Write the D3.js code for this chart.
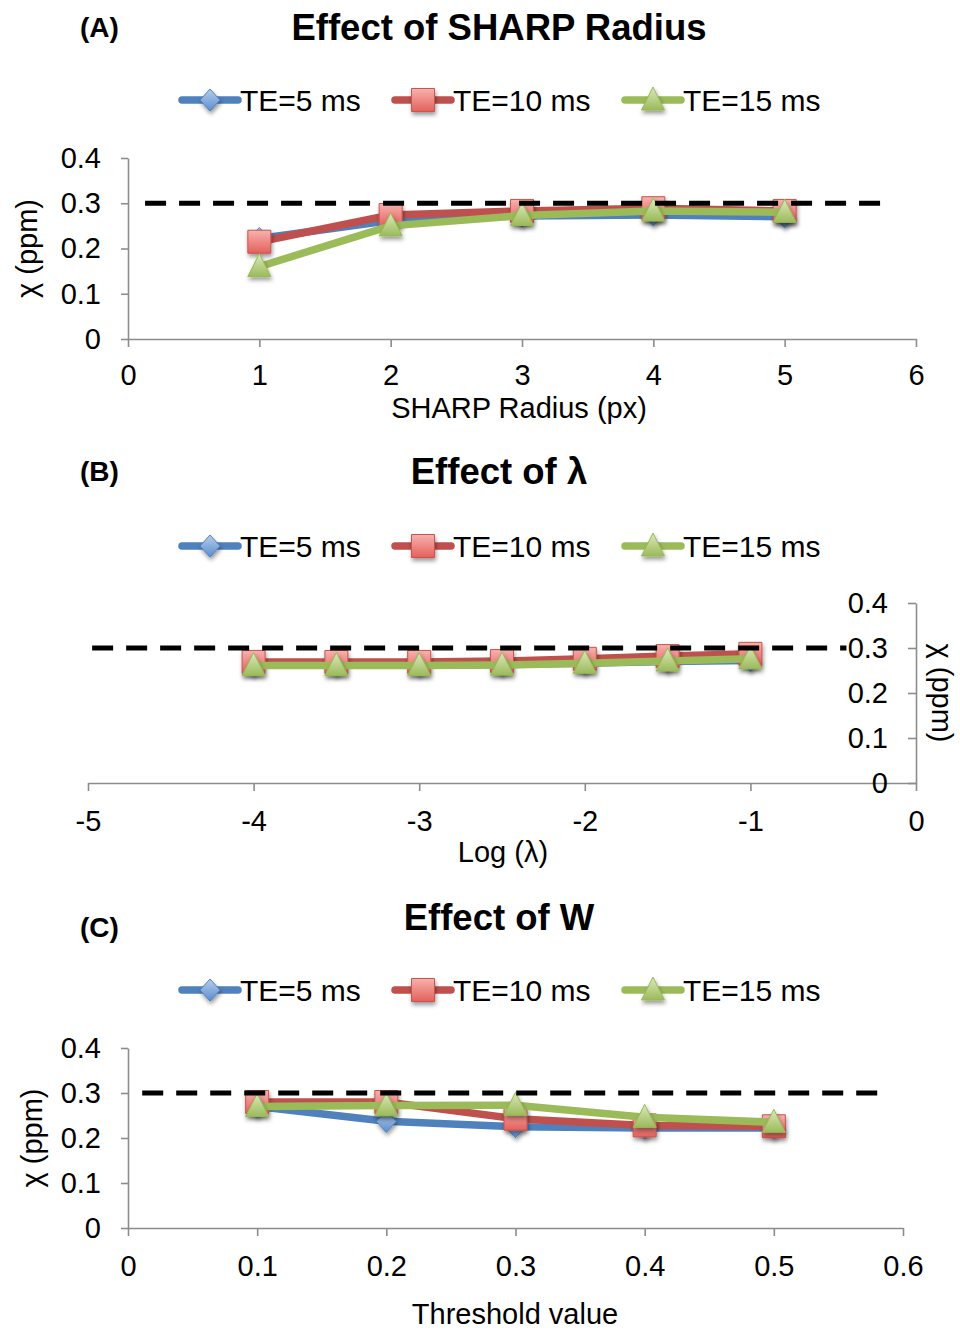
<!DOCTYPE html>
<html>
<head>
<meta charset="utf-8">
<script src="https://cdnjs.cloudflare.com/ajax/libs/d3/7.8.5/d3.min.js"></script>
<style>
  body { margin: 0; background: #fff; }
  svg text { font-family: "Liberation Sans", Arial, sans-serif; fill: #000; }
</style>
</head>
<body>
<svg id="chart"></svg>
<script>
// ---- data ----
var seriesNames = ["TE=5 ms", "TE=10 ms", "TE=15 ms"];
var chiTicks = [0, 0.1, 0.2, 0.3, 0.4];
var trueChi = 0.3;

// (A) SHARP radius
var radiusX = [1, 2, 3, 4, 5];
var radiusTE5 = [0.222, 0.262, 0.272, 0.274, 0.270];
var radiusTE10 = [0.215, 0.274, 0.283, 0.289, 0.283];
var radiusTE15 = [0.160, 0.250, 0.273, 0.283, 0.280];
var radiusTicks = [0, 1, 2, 3, 4, 5, 6];
var radiusRefX = [0.13, 5.82];

// (B) lambda
var lambdaX = [-4, -3.5, -3, -2.5, -2, -1.5, -1];
var lambdaTE5 = [0.262, 0.262, 0.262, 0.263, 0.266, 0.270, 0.272];
var lambdaTE10 = [0.269, 0.269, 0.269, 0.271, 0.276, 0.282, 0.287];
var lambdaTE15 = [0.261, 0.261, 0.261, 0.262, 0.266, 0.271, 0.276];
var lambdaTicks = [-5, -4, -3, -2, -1, 0];
var lambdaRefX = [-4.975, -0.42];

// (C) threshold W
var thrX = [0.1, 0.2, 0.3, 0.4, 0.5];
var thrTE5 = [0.270, 0.237, 0.225, 0.222, 0.222];
var thrTE10 = [0.280, 0.280, 0.243, 0.228, 0.226];
var thrTE15 = [0.270, 0.272, 0.273, 0.246, 0.235];
var thrTicks = [0, 0.1, 0.2, 0.3, 0.4, 0.5, 0.6];
var thrRefX = [0.011, 0.59];

// ---- styles ----
var lineColors = ["#4F81BD", "#C0504D", "#9BBB59"];
var markerTypes = ["diamond", "square", "triangle"];
var legendX = [182, 395, 625];

var svg = d3.select("#chart").attr("width", 960).attr("height", 1331);
svg.append("rect").attr("width", 960).attr("height", 1331).attr("fill", "#fff");

var defs = svg.append("defs");
defs.append("filter").attr("id", "shadow")
    .attr("x", "-50%").attr("y", "-50%").attr("width", "200%").attr("height", "200%")
    .append("feDropShadow")
    .attr("dx", 1).attr("dy", 3).attr("stdDeviation", 2)
    .attr("flood-color", "#000").attr("flood-opacity", 0.4);

// marker gradients (light top -> darker bottom)
var grads = [["#B7CDEA", "#5B8ED0"], ["#F7B2AE", "#E4605B"], ["#DCE9BE", "#9BBB59"]];
grads.forEach(function(g, i){
    var lg = defs.append("linearGradient").attr("id", "mg" + i)
        .attr("x1", 0).attr("y1", 0).attr("x2", 0).attr("y2", 1);
    lg.append("stop").attr("offset", "0%").attr("stop-color", g[0]);
    lg.append("stop").attr("offset", "100%").attr("stop-color", g[1]);
});

function markerPath(type){
    if(type == "diamond"){
        return "M0,-11 L10,0 L0,11 L-10,0 Z";
    }
    if(type == "square"){
        return "M-11.5,-11.5 H11.5 V11.5 H-11.5 Z";
    }
    return "M0,-13 L11.5,10 L-11.5,10 Z";
}

function drawMarker(g, i, x, y){
    g.append("path")
        .attr("d", markerPath(markerTypes[i]))
        .attr("transform", "translate(" + x + "," + y + ")")
        .attr("fill", "url(#mg" + i + ")")
        .attr("stroke", i == 1 ? "#C9524E" : (i == 0 ? "#4F81BD" : "#98B954"))
        .attr("stroke-width", 1)
        .attr("filter", "url(#shadow)");
}

function drawPanel(p){
    var g = svg.append("g");
    var x = d3.scaleLinear().domain(p.xDomain).range(p.xRange);
    var y = d3.scaleLinear().domain([0, 0.4]).range(p.yRange);

    // letter + title
    g.append("text").attr("x", 80).attr("y", p.letterY)
        .attr("dominant-baseline", "central")
        .style("font-size", "28px").style("font-weight", "bold").text(p.letter);
    g.append("text").attr("x", 499).attr("y", p.titleY)
        .attr("text-anchor", "middle").attr("dominant-baseline", "central")
        .style("font-size", "36.5px").style("font-weight", "bold").text(p.title);

    // legend
    seriesNames.forEach(function(name, i){
        var lx = legendX[i];
        g.append("line").attr("x1", lx).attr("x2", lx + 56)
            .attr("y1", p.legendY).attr("y2", p.legendY)
            .attr("stroke", lineColors[i]).attr("stroke-width", 7.5)
            .attr("stroke-linecap", "round");
        drawMarker(g, i, lx + 28, p.legendY);
        g.append("text").attr("x", lx + 58).attr("y", p.legendY)
            .attr("dominant-baseline", "central")
            .style("font-size", "30px").text(name);
    });

    // x axis
    var xAxis = d3.axisBottom(x).tickValues(p.xTicks)
        .tickFormat(function(d){ return String(d); })
        .tickSize(8).tickSizeOuter(0).tickPadding(p.xPad);
    var xg = g.append("g").attr("transform", "translate(0," + p.yRange[0] + ")").call(xAxis);
    xg.selectAll("text").style("font-size", "29px");

    // y axis (left or right)
    var yAxis = d3.axisLeft(y).tickValues(chiTicks)
        .tickFormat(function(d){ return String(d); })
        .tickSize(p.yAxisSide == "left" ? 7 : 8).tickSizeOuter(0).tickPadding(20);
    var yx = p.yAxisSide == "left" ? p.xRange[0] : p.xRange[1];
    var yg = g.append("g").attr("transform", "translate(" + yx + ",0)").call(yAxis);
    yg.selectAll("text").style("font-size", "29px");

    [xg, yg].forEach(function(a){
        a.selectAll("path, line").attr("stroke", "#8C8C8C").attr("stroke-width", 1.6);
    });

    // axis titles
    g.append("text").attr("x", p.xTitleX).attr("y", p.xTitleY)
        .attr("text-anchor", "middle").attr("dominant-baseline", "central")
        .style("font-size", "29px").text(p.xTitle);
    var rot = p.yAxisSide == "left" ? -90 : 90;
    g.append("text")
        .attr("transform", "translate(" + p.yTitleX + "," + ((p.yRange[0] + p.yRange[1]) / 2) + ") rotate(" + rot + ")")
        .attr("text-anchor", "middle").attr("dominant-baseline", "central")
        .style("font-size", "29px").text("\u03c7 (ppm)");

    // series: line then markers
    var line = d3.line()
        .x(function(d){ return x(d[0]); })
        .y(function(d){ return y(d[1]); });
    p.series.forEach(function(vals, i){
        var pts = p.xs.map(function(xv, k){ return [xv, vals[k]]; });
        g.append("path").datum(pts)
            .attr("d", line)
            .attr("fill", "none")
            .attr("stroke", lineColors[i])
            .attr("stroke-width", 7.5)
            .attr("stroke-linejoin", "round")
            .attr("stroke-linecap", "round");
        pts.forEach(function(d){ drawMarker(g, i, x(d[0]), y(d[1])); });
    });

    // true value, dashed
    g.append("line")
        .attr("x1", x(p.refX[0])).attr("x2", x(p.refX[1]))
        .attr("y1", y(trueChi)).attr("y2", y(trueChi))
        .attr("stroke", "#000").attr("stroke-width", 5)
        .attr("stroke-dasharray", "21,13");
}

drawPanel({
    letter: "(A)", title: "Effect of SHARP Radius", xTitle: "SHARP Radius (px)",
    xDomain: [0, 6], xRange: [128, 916], yRange: [339, 158],
    xs: radiusX, series: [radiusTE5, radiusTE10, radiusTE15],
    xTicks: radiusTicks, refX: radiusRefX, yAxisSide: "left", xPad: 17,
    letterY: 27, titleY: 27, legendY: 100, xTitleX: 519, xTitleY: 408, yTitleX: 27
});

drawPanel({
    letter: "(B)", title: "Effect of \u03bb", xTitle: "Log (\u03bb)",
    xDomain: [-5, 0], xRange: [88, 916], yRange: [783, 603],
    xs: lambdaX, series: [lambdaTE5, lambdaTE10, lambdaTE15],
    xTicks: lambdaTicks, refX: lambdaRefX, yAxisSide: "right", xPad: 19,
    letterY: 471, titleY: 471, legendY: 546, xTitleX: 503, xTitleY: 852, yTitleX: 942
});

drawPanel({
    letter: "(C)", title: "Effect of W", xTitle: "Threshold value",
    xDomain: [0, 0.6], xRange: [128, 903], yRange: [1228, 1048],
    xs: thrX, series: [thrTE5, thrTE10, thrTE15],
    xTicks: thrTicks, refX: thrRefX, yAxisSide: "left", xPad: 19,
    letterY: 927, titleY: 917, legendY: 990, xTitleX: 515, xTitleY: 1314, yTitleX: 32
});
</script>
</body>
</html>
